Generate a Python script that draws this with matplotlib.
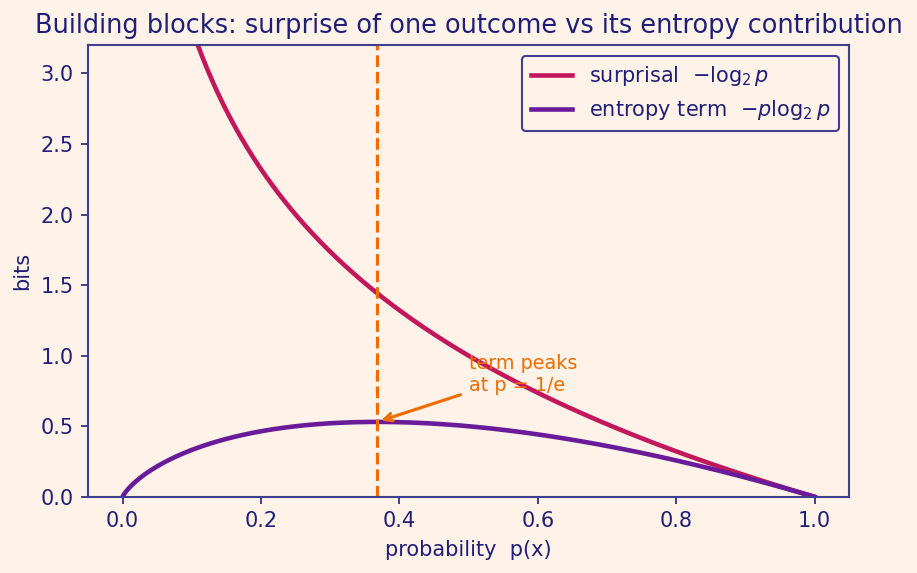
import numpy as np
import matplotlib
matplotlib.use('Agg')
import matplotlib.pyplot as plt

# probability grid and the two curves
p = np.linspace(1e-4, 1.0, 600)
surprisal = -np.log2(p)
entropy_term = -p * np.log2(p)
p_peak = 1 / np.e
peak_val = -p_peak * np.log2(p_peak)

bg = '#fff2e8'
navy = '#1f1f77'
spine = '#3f3f8f'
c_surp = '#c2185b'
c_ent = '#6a1b9a'
c_org = '#ef6c00'

fig, ax = plt.subplots(figsize=(917 / 150, 573 / 150), dpi=150)
fig.patch.set_facecolor(bg)
ax.set_facecolor(bg)

ax.plot(p, surprisal, color=c_surp, lw=2.2, label=r'surprisal  $-\log_2 p$')
ax.plot(p, entropy_term, color=c_ent, lw=2.2, label=r'entropy term  $-p\log_2 p$')
ax.axvline(p_peak, color=c_org, ls='--', lw=1.5)

ax.annotate('term peaks\nat p = 1/e', xy=(p_peak, peak_val), xytext=(0.5, 0.75),
            color=c_org, fontsize=9.2,
            arrowprops=dict(arrowstyle='->', color=c_org, lw=1.5))

ax.set_xlim(-0.05, 1.05)
ax.set_ylim(0, 3.2)
ax.set_xlabel('probability  p(x)', color=navy, fontsize=10)
ax.set_ylabel('bits', color=navy, fontsize=10)
ax.set_title('Building blocks: surprise of one outcome vs its entropy contribution',
             color=navy, fontsize=12.3)
ax.tick_params(colors=navy, labelsize=10)
for s in ax.spines.values():
    s.set_color(spine)
    s.set_linewidth(1.0)

leg = ax.legend(loc='upper right', fontsize=10, facecolor=bg, edgecolor=spine,
                labelcolor=navy, framealpha=1)
leg.get_frame().set_linewidth(1.0)

fig.subplots_adjust(left=0.096, right=0.926, top=0.921, bottom=0.133)
fig.savefig('out.png', facecolor=bg)
